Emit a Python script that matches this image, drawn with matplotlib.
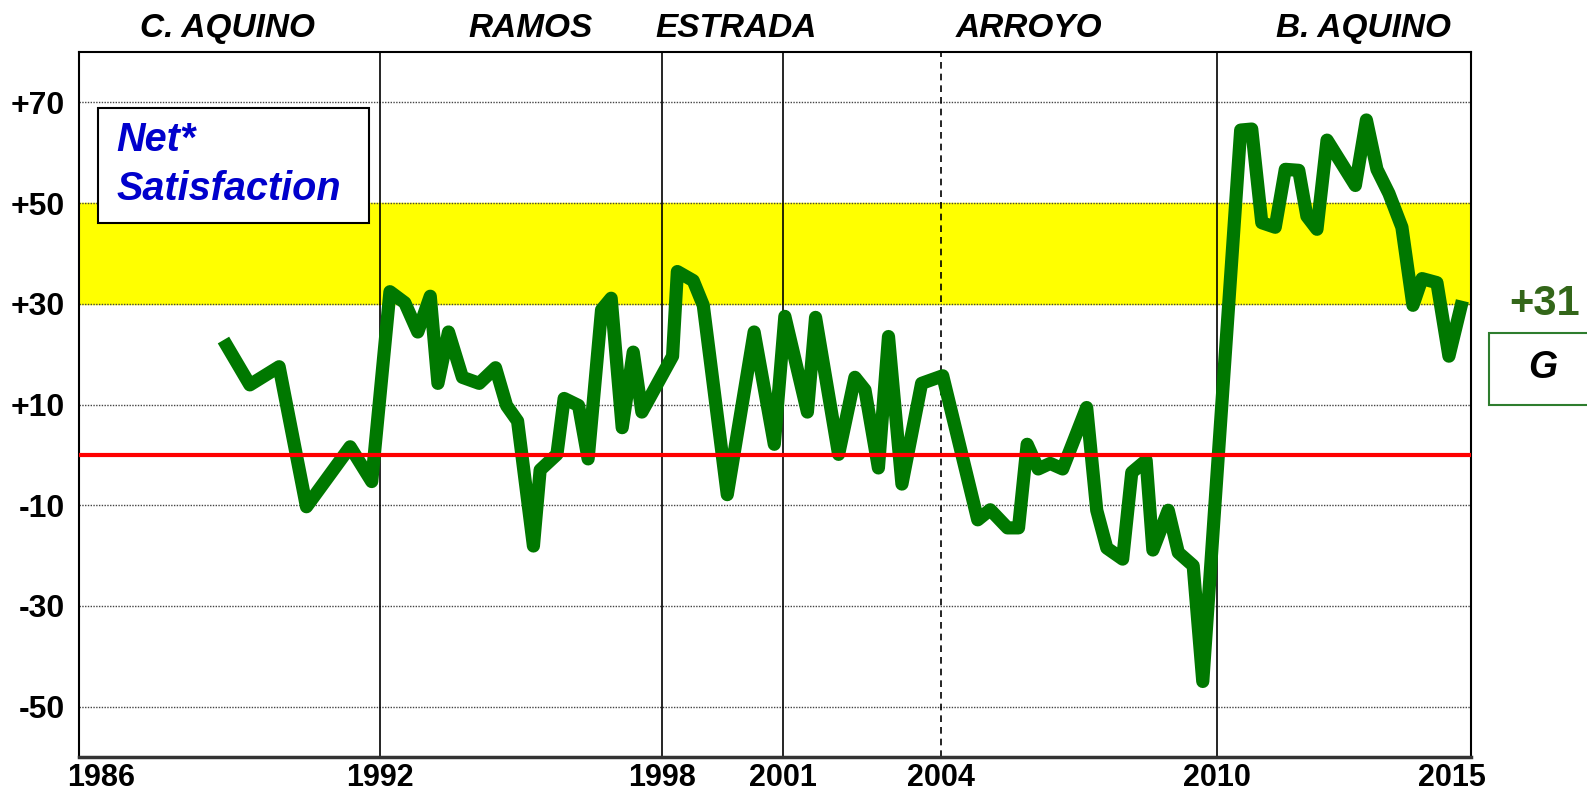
import matplotlib.pyplot as plt
from matplotlib.patches import Rectangle

# posicion en el eje de tiempo (anios, como aparecen en el grafico) y satisfaccion neta
survey_x = [1989.01, 1989.56, 1990.17, 1990.74, 1991.65, 1992.10, 1992.48,
            1992.79, 1993.06, 1993.32, 1993.48, 1993.70, 1993.99, 1994.34, 1994.68,
            1994.91, 1995.14, 1995.47, 1995.61, 1995.96, 1996.11, 1996.41, 1996.61,
            1996.89, 1997.09, 1997.32, 1997.55, 1997.73, 1998.37, 1998.47, 1998.80,
            1999.01, 1999.51, 2000.07, 2000.49, 2000.71, 2001.18, 2001.35, 2001.83,
            2002.17, 2002.38, 2002.66, 2002.87, 2003.15, 2003.56, 2004.00, 2004.73,
            2004.99, 2005.35, 2005.58, 2005.76, 2005.99, 2006.24, 2006.50, 2007.00,
            2007.21, 2007.42, 2007.75, 2007.94, 2008.24, 2008.38, 2008.70, 2008.91,
            2009.22, 2009.42, 2010.21, 2010.44, 2010.65, 2010.93, 2011.14, 2011.42,
            2011.59, 2011.80, 2012.01, 2012.60, 2012.83, 2013.05, 2013.30, 2013.57,
            2013.80, 2013.99, 2014.30, 2014.55, 2014.83]
net_sat = [22.8, 13.9, 17.5, -10.3, 1.6, -5.3, 32.4,
           30.2, 24.4, 31.5, 14.2, 24.4, 15.4, 14.2, 17.3,
           9.8, 6.7, -18.1, -3, 0.1, 11.2, 9.8, -0.8,
           28.8, 31.1, 5.4, 20.4, 8.5, 19.6, 36.4, 34.6,
           29.7, -7.9, 24.4, 2.1, 27.5, 8.5, 27.3, 0.1,
           15.4, 12.9, -2.6, 23.5, -5.8, 14.2, 15.7, -12.9,
           -10.9, -14.5, -14.5, 2.1, -2.8, -1.7, -2.8, 9.4,
           -11, -18.5, -20.7, -3.5, -1.1, -18.9, -11, -19.4,
           -22, -45, 64.5, 64.7, 46.1, 45.2, 56.7, 56.5,
           47.4, 44.8, 62.5, 53.5, 66.5, 56.7, 51.9, 45.2,
           29.7, 35, 34.2, 19.6, 30.6]

# cambios de gobierno (lineas verticales)
term_lines = [1992.28, 1998.16, 2000.68, 2009.72]
second_term = 2003.97

xtick_pos = [1986.46, 1992.28, 1998.16, 2000.68, 2003.97, 2009.72, 2014.62]
xtick_labels = ['1986', '1992', '1998', '2001', '2004', '2010', '2015']
yticks = [70, 50, 30, 10, -10, -30, -50]
ytick_labels = ['+70', '+50', '+30', '+10', '-10', '-30', '-50']

presidents = ['C. AQUINO', 'RAMOS', 'ESTRADA', 'ARROYO', 'B. AQUINO']
president_x = [1989.1, 1995.42, 1999.69, 2005.8, 2012.76]

latest_value = '+31'
latest_grade = 'G'

plt.rcParams['font.family'] = ['Liberation Sans', 'DejaVu Sans']

fig = plt.figure(figsize=(15.87, 7.94), dpi=100)
ax = fig.add_axes([0.0498, 0.0466, 0.8768, 0.8879])

ax.set_xlim(1986, 2015)
ax.set_ylim(-60, 80)

# banda amarilla entre +30 y +50
ax.axhspan(30, 50, color='#FFFF00', zorder=0)

for y in yticks:
    ax.axhline(y, color='#444444', lw=1.0, linestyle=(0, (1, 1)), zorder=1)

for x in term_lines:
    ax.axvline(x, color='black', lw=1.2, zorder=2)
ax.axvline(second_term, color='black', lw=1.2, linestyle=(0, (4, 3)), zorder=2)

ax.plot(survey_x, net_sat, color='#007800', lw=9.5,
        solid_joinstyle='round', solid_capstyle='butt', zorder=3)

ax.axhline(0, color='#FF0000', lw=3, zorder=4)

ax.set_xticks(xtick_pos)
ax.set_xticklabels(xtick_labels)
ax.set_yticks(yticks)
ax.set_yticklabels(ytick_labels)
ax.tick_params(axis='both', length=0)
ax.tick_params(axis='x', pad=4, labelsize=22)
ax.tick_params(axis='y', pad=10, labelsize=23)
for lab in ax.get_xticklabels() + ax.get_yticklabels():
    lab.set_fontweight('bold')

for side in ['left', 'right', 'top']:
    ax.spines[side].set_linewidth(1.5)
ax.spines['bottom'].set_linewidth(2.5)
ax.spines['bottom'].set_color('#333333')

# nombres de presidentes arriba
for name, x in zip(presidents, president_x):
    ax.text(x, 1.033, name, transform=ax.get_xaxis_transform(), ha='center',
            va='center', fontsize=24, fontweight='bold', fontstyle='italic')

# recuadro "Net* Satisfaction"
ax.add_patch(Rectangle((0.0137, 0.7574), 0.1948, 0.1632, transform=ax.transAxes,
                       facecolor='white', edgecolor='black', lw=1.5, zorder=5))
ax.text(0.0266, 0.875, 'Net*', transform=ax.transAxes, ha='left', va='center',
        fontsize=28.5, fontweight='bold', fontstyle='italic', color='#0000CC', zorder=6)
ax.text(0.0266, 0.805, 'Satisfaction', transform=ax.transAxes, ha='left', va='center',
        fontsize=28.5, fontweight='bold', fontstyle='italic', color='#0000CC', zorder=6)

# ultimo valor a la derecha
fig.text(0.9735, 0.617, latest_value, ha='center', va='center', fontsize=30,
         fontweight='bold', color='#336619')
fig.patches.append(Rectangle((0.9383, 0.49), 0.08, 0.0906, transform=fig.transFigure,
                             facecolor='white', edgecolor='#2E7D2E', lw=1.5))
fig.text(0.9723, 0.5365, latest_grade, ha='center', va='center', fontsize=27,
         fontweight='bold', fontstyle='italic', color='black')

fig.savefig('out.png', dpi=100)
